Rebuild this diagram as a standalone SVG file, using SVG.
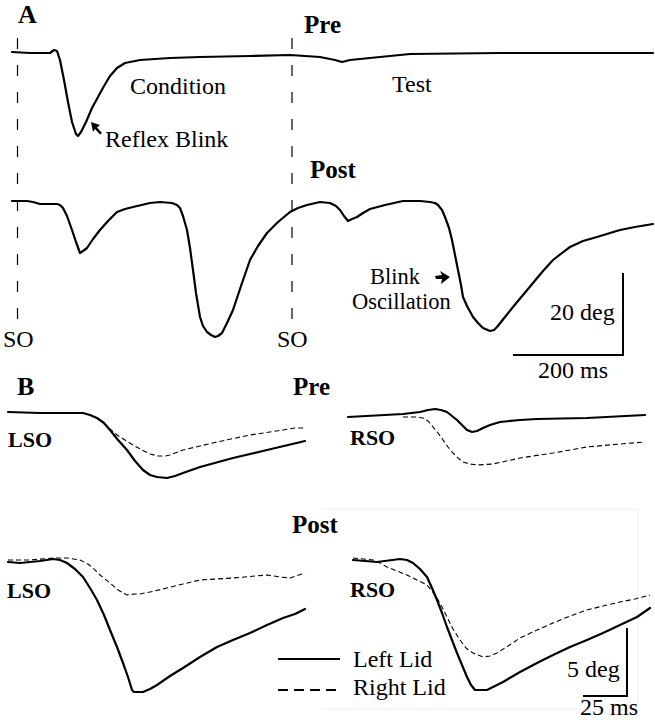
<svg xmlns="http://www.w3.org/2000/svg" width="655" height="720" viewBox="0 0 655 720">
<style>
  text { font-family: "Liberation Serif", "Times New Roman", serif; fill: #000; }
  .t { font-size: 24px; }
  .t2 { font-size: 22.5px; }
  .h { font-size: 25px; font-weight: bold; }
  .p { font-size: 26px; font-weight: bold; }
  .s { font-size: 22px; font-weight: bold; }
  .tr { fill: none; stroke: #000; stroke-width: 2.2; stroke-linejoin: round; stroke-linecap: round; }
  .dt { fill: none; stroke: #000; stroke-width: 1.1; stroke-dasharray: 5 3; stroke-linejoin: round; }
  .so { fill: none; stroke: #000; stroke-width: 1.2; stroke-dasharray: 11 16; }
  .bar { fill: none; stroke: #000; stroke-width: 2; }
</style>
<rect width="655" height="720" fill="#fff"/>
<path d="M322,509 L638,509 L638,709 L322,709" fill="none" stroke="#f0f0f0" stroke-width="1"/>

<g id="panelA">
  <text class="p" x="18" y="23">A</text>
  <text class="h" x="304" y="33">Pre</text>
  <text class="h" x="310" y="178">Post</text>
  <text class="t" x="130" y="94">Condition</text>
  <text class="t" x="392" y="92">Test</text>
  <text class="t" x="105" y="147">Reflex Blink</text>
  <text class="t" x="3" y="347">SO</text>
  <text class="t" x="277" y="347">SO</text>
  <text class="t2" x="370" y="284">Blink</text>
  <text class="t2" x="352" y="309">Oscillation</text>
  <text class="t" x="550" y="320">20 deg</text>
  <text class="t" x="538" y="378">200 ms</text>
</g>

<g id="connectors">
  <line class="so" x1="17.5" y1="38" x2="17.5" y2="323"/>
  <line class="so" x1="292" y1="38" x2="292" y2="323"/>
  <path class="tr" d="M12,52 L30,53 L50,53 L54,50 L57,51 L60,60 L64,80 L68,102 L72,122 L76,134 L78,136 L81,132 L86,122 L92,108 L98,97 L104,86 L110,76 L117,68 L125,63 L140,60 L170,58 L200,57 L250,56 L290,55 L320,57 L335,60 L342,62 L350,60 L370,58 L410,54 L500,53 L653,53"/>
  <path class="tr" d="M12,201 L27,201 L33,202 L40,204 L57,204 L60,205 L63,208 L67,216 L72,230 L76,242 L80,253 L83,251 L87,248 L93,239 L100,230 L108,221 L117,212 L125,209 L133,207 L150,203 L160,202 L172,203 L177,205 L180,208 L183,216 L187,230 L190,248 L193,270 L196,293 L200,317 L203,326 L207,332 L211,335 L215,337 L218,336 L222,333 L227,323 L233,310 L241,286 L250,260 L258,246 L267,233 L278,222 L290,212 L298,208 L307,205 L320,202 L330,203 L336,206 L340,210 L344,216 L348,221 L352,219 L357,217 L363,213 L370,209 L385,205 L403,201 L420,201 L430,202 L435,203 L438,205 L442,210 L445,217 L449,228 L452,240 L455,255 L458,270 L461,285 L463,297 L467,306 L473,317 L478,323 L483,328 L490,331 L494,330 L497,327 L505,317 L513,307 L523,295 L533,283 L543,271 L553,260 L562,253 L570,247 L583,241 L597,237 L610,233 L620,230 L635,227 L653,224"/>
  <polygon points="91,122 100,125 97,127.5 102,133 100,134.5 95,129 93,132" fill="#000"/>
  <polygon points="450,277 440,271 442,275 435,276 436,279 442,279 441,284" fill="#000"/>
  <path class="bar" d="M623,273 L623,355 L513,355"/>

  <path class="tr" d="M8,412 L40,413 L83,413 L90,415 L97,418 L104,423 L110,430 L118,440 L127,450 L135,461 L143,470 L150,475 L157,477 L167,478 L175,476 L183,473 L200,467 L233,458 L267,450 L305,441"/>
  <path class="dt" d="M97,418 L103,423 L110,429 L117,435 L125,440 L133,445 L142,450 L150,454 L158,456 L165,456 L170,455 L183,450 L200,446 L217,442 L250,435 L283,430 L295,428 L305,428"/>
  <path class="tr" d="M348,417 L403,414 L420,412 L428,410 L435,409 L441,410 L447,412 L452,416 L457,420 L462,425 L467,430 L472,432 L477,431 L483,428 L490,425 L500,422 L520,420 L537,419 L587,418 L645,415"/>
  <path class="dt" d="M403,417 L416,417 L423,418 L428,421 L433,427 L438,433 L443,440 L448,447 L453,453 L458,458 L463,462 L470,464 L477,465 L493,464 L520,458 L553,453 L587,447 L620,444 L645,442"/>
  <path class="tr" d="M8,562 L20,563 L40,561 L53,559 L60,560 L67,563 L75,569 L83,577 L90,588 L97,600 L104,615 L110,630 L117,647 L123,663 L128,677 L132,690 L134,692 L143,692 L150,689 L157,685 L170,676 L183,668 L200,657 L217,647 L233,640 L250,633 L267,625 L283,618 L295,614 L305,609"/>
  <path class="dt" d="M8,560 L30,560 L53,558 L67,558 L80,560 L88,564 L93,568 L100,575 L110,583 L118,590 L127,595 L135,594 L140,594 L150,592 L167,588 L183,584 L200,580 L233,578 L267,575 L280,577 L290,578 L305,573"/>
  <path class="tr" d="M353,560 L377,562 L400,559 L407,560 L413,563 L420,569 L427,577 L432,588 L437,600 L442,613 L447,627 L452,640 L457,653 L462,665 L467,677 L471,685 L475,690 L487,690 L495,686 L503,682 L520,672 L537,663 L553,655 L570,647 L587,640 L603,633 L620,625 L637,617 L650,608"/>
  <path class="dt" d="M353,558 L373,560 L380,563 L387,567 L397,571 L407,575 L417,580 L427,585 L432,591 L437,598 L442,607 L447,617 L453,629 L460,640 L466,648 L473,653 L483,657 L490,656 L497,653 L508,646 L520,638 L537,630 L553,623 L570,616 L587,610 L603,606 L620,602 L635,599 L650,595"/>
  <path class="bar" d="M627,628 L627,696 L583,696"/>
  <line x1="278" y1="659" x2="340" y2="659" stroke="#000" stroke-width="2"/>
  <line x1="278" y1="690" x2="342" y2="690" stroke="#000" stroke-width="2" stroke-dasharray="10 6"/>
</g>

<g id="panelB">
  <text class="p" x="17" y="395">B</text>
  <text class="h" x="293" y="395">Pre</text>
  <text class="h" x="292" y="533">Post</text>
  <text class="s" x="8" y="447">LSO</text>
  <text class="s" x="350" y="445">RSO</text>
  <text class="s" x="7" y="598">LSO</text>
  <text class="s" x="350" y="597">RSO</text>
  <text class="t" x="353" y="667">Left Lid</text>
  <text class="t" x="353" y="695">Right Lid</text>
  <text class="t" x="567" y="677">5 deg</text>
  <text class="t" x="580" y="715">25 ms</text>
</g>
</svg>
